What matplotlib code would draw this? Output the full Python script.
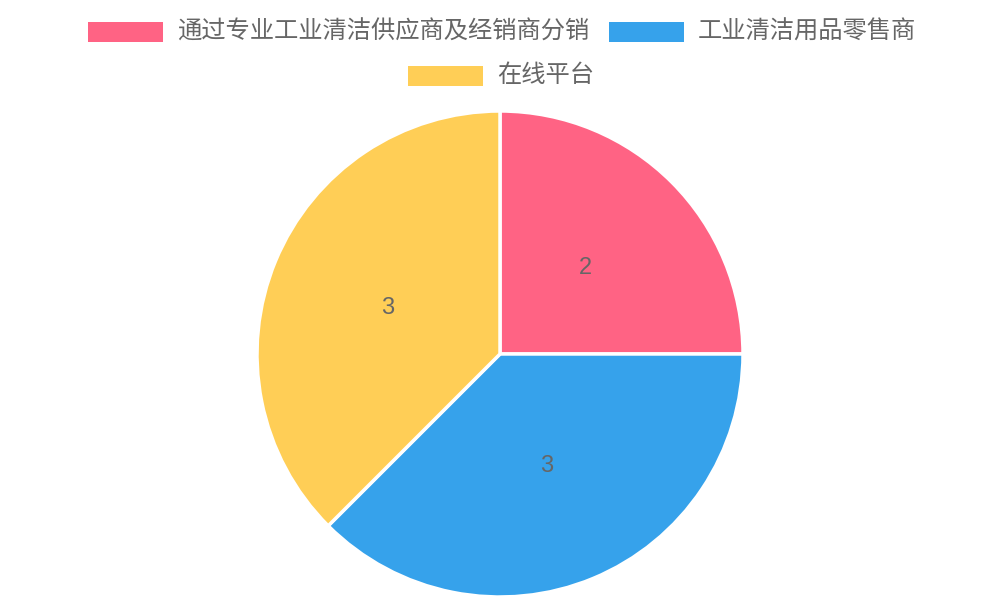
import matplotlib
matplotlib.use('Agg')
import matplotlib.pyplot as plt
from matplotlib.patches import Rectangle
import numpy as np

categories = ['通过专业工业清洁供应商及经销商分销', '工业清洁用品零售商', '在线平台']
values = [2, 3, 3]
colors = ['#FF6384', '#36A2EB', '#FFCE56']

plt.rcParams['font.family'] = ['Liberation Sans', 'Noto Sans CJK SC', 'DejaVu Sans']
text_color = '#666666'

W, H = 1000, 600
fig = plt.figure(figsize=(10, 6), dpi=100)
fig.patch.set_facecolor('white')

# pie area, in pixels: centre (500, 354), radius 243
cx, cy, r = 500, 354, 243
ax = fig.add_axes([(cx - r) / W, (H - cy - r) / H, 2 * r / W, 2 * r / H])
wedges, _ = ax.pie(values, colors=colors, startangle=90, counterclock=False,
                   radius=1, wedgeprops=dict(edgecolor='white', linewidth=2.5))
ax.set_xlim(-1, 1)
ax.set_ylim(-1, 1)
ax.set_aspect('equal')
ax.axis('off')

# value labels at half radius
for w, v in zip(wedges, values):
    mid = np.deg2rad((w.theta1 + w.theta2) / 2)
    ax.text(0.5 * np.cos(mid), 0.5 * np.sin(mid), str(v), ha='center', va='center',
            fontsize=17, color=text_color)

# legend drawn by hand (two rows, centred)
legend_items = [
    (0, 88, 32),
    (1, 609, 32),
    (2, 408, 76),
]
box_w, box_h = 75, 20
for i, x0, yc in legend_items:
    fig.patches.append(Rectangle((x0 / W, (H - yc - box_h / 2) / H), box_w / W, box_h / H,
                                 transform=fig.transFigure, facecolor=colors[i],
                                 edgecolor='none'))
    fig.text((x0 + box_w + 14) / W, (H - yc) / H, categories[i], ha='left', va='center',
             fontsize=17.5, color=text_color)

fig.savefig('out.png', dpi=100)
